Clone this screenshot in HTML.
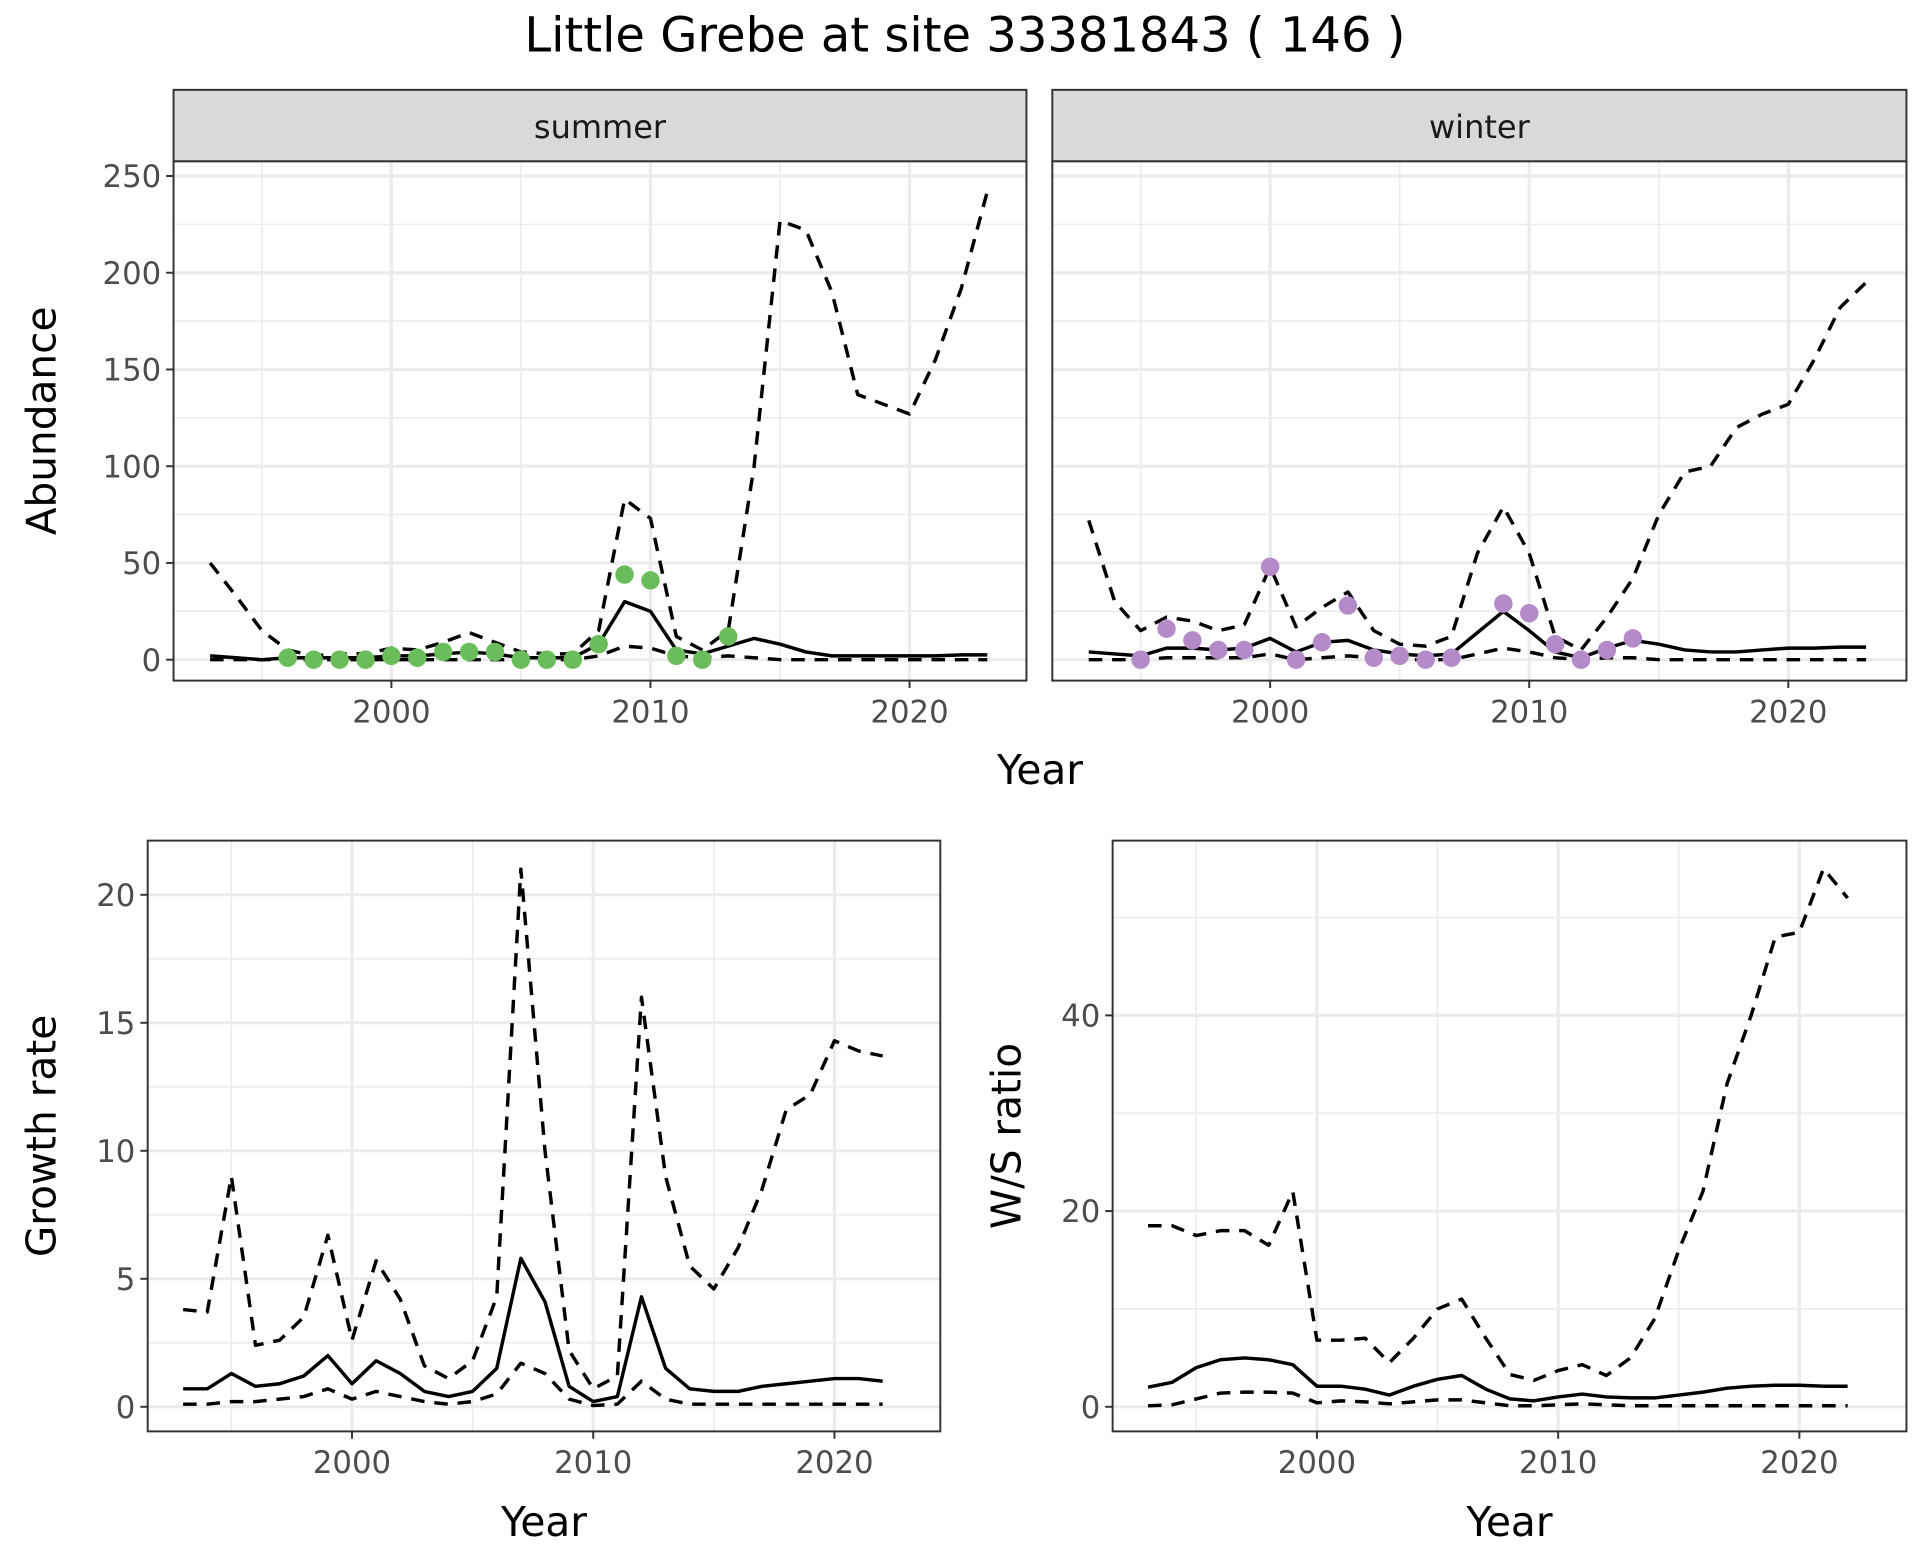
<!DOCTYPE html>
<html><head><meta charset="utf-8"><style>
html,body{margin:0;padding:0;background:#fff}
svg{display:block;font-family:"DejaVu Sans","Liberation Sans",sans-serif}
</style></head><body>
<svg id="c" width="1920" height="1560" viewBox="0 0 1560 1267.5" xmlns="http://www.w3.org/2000/svg">
<text x="784" y="42" font-size="39" text-anchor="middle" fill="#000">Little Grebe at site 33381843 ( 146 )</text>
</svg>
<script>
const yearsA = [];for(let y=1993;y<=2023;y++)yearsA.push(y);
const yearsB = [];for(let y=1993;y<=2022;y++)yearsB.push(y);
const sumUpper=[50,33,15,5,2,3,3,6,5,9,14,9,4,3,3,15,83,73,12,5,15,100,227,222,190,137,132,127,155,192,242];
const sumMid=[2,1,0,1,1,1,1,2,2,3,4,3,1,1,1,8,30,25,5,3,7,11,8,4,2,2,2,2,2,2.5,2.5];
const sumLower=[0,0,0,0,0,0,0,0,0,0,0,0,0,0,0,2,7,6,2,1,2,1,0,0,0,0,0,0,0,0,0];
const sumPtYears=[1996,1997,1998,1999,2000,2001,2002,2003,2004,2005,2006,2007,2008,2009,2010,2011,2012,2013];
const sumPts=[1,0,0,0,2,1,4,4,4,0,0,0,8,44,41,2,0,12];
const winUpper=[72,30,15,22,20,15,18,48,17,27,35,15,8,7,12,55,79,55,12,5,22,42,75,97,100,120,127,132,155,182,195];
const winMid=[4,3,2,6,6,5,6,11,4,9,10,5,3,2,3,14,25,15,4,1,6,10,8,5,4,4,5,6,6,6.5,6.5];
const winLower=[0,0,0,1,1,1,1,3,0,1,2,1,0,0,0,3,6,4,1,0,1,1,0,0,0,0,0,0,0,0,0];
const winPtYears=[1995,1996,1997,1998,1999,2000,2001,2002,2003,2004,2005,2006,2007,2009,2010,2011,2012,2013,2014];
const winPts=[0,16,10,5,5,48,0,9,28,1,2,0,1,29,24,8,0,5,11];
const grUpper=[3.8,3.7,9,2.4,2.6,3.5,6.7,2.6,5.7,4.2,1.6,1.1,1.8,4.3,21,10,2.2,0.7,1.2,16,9,5.5,4.6,6.2,8.5,11.6,12.2,14.3,13.9,13.7];
const grMid=[0.7,0.7,1.3,0.8,0.9,1.2,2.0,0.9,1.8,1.3,0.6,0.4,0.6,1.5,5.8,4.1,0.8,0.2,0.4,4.3,1.5,0.7,0.6,0.6,0.8,0.9,1.0,1.1,1.1,1.0];
const grLower=[0.1,0.1,0.2,0.2,0.3,0.4,0.7,0.3,0.6,0.4,0.2,0.1,0.2,0.5,1.7,1.3,0.3,0.05,0.1,1.0,0.3,0.1,0.1,0.1,0.1,0.1,0.1,0.1,0.1,0.1];
const wsUpper=[18.5,18.5,17.5,18,18,16.5,22,6.8,6.8,7,4.5,7,10,11,7,3.3,2.7,3.7,4.3,3.2,5,9,16,22,33,40,48,48.5,55,52];
const wsMid=[2,2.5,4,4.8,5,4.8,4.3,2.1,2.1,1.8,1.2,2.1,2.8,3.2,1.8,0.8,0.6,1.0,1.3,1.0,0.9,0.9,1.2,1.5,1.9,2.1,2.2,2.2,2.1,2.1];
const wsLower=[0.1,0.2,0.8,1.4,1.5,1.5,1.4,0.4,0.6,0.5,0.3,0.5,0.7,0.7,0.4,0.1,0.1,0.2,0.3,0.2,0.1,0.1,0.1,0.1,0.1,0.1,0.1,0.1,0.1,0.1];
const xTicks=[2000,2010,2020];
const xMinor=[1995,2005,2015];
const abTicks=[0,50,100,150,200,250];
const abMinor=[25,75,125,175,225];
const grTicks=[0,5,10,15,20];
const grMinor=[2.5,7.5,12.5,17.5];
const wsTicks=[0,20,40];
const wsMinor=[10,30,50];

const svg=document.getElementById('c');
const NS='http://www.w3.org/2000/svg';
function el(t,a,p){const e=document.createElementNS(NS,t);for(const k in a)e.setAttribute(k,a[k]);(p||svg).appendChild(e);return e;}

function panel(o){
  const g=el('g',{});
  
  
  const sx=v=>o.x2000+(v-2000)*o.pxYear;
  const sy=v=>o.y0-v*o.pxUnit;
  el('rect',{x:o.l,y:o.t,width:o.r-o.l,height:o.b-o.t,fill:'#fff'},g);
  o.yMinor.forEach(v=>el('line',{x1:o.l,x2:o.r,y1:sy(v),y2:sy(v),stroke:'#ebebeb','stroke-width':1.3},g));
  xMinor.forEach(v=>el('line',{x1:sx(v),x2:sx(v),y1:o.t,y2:o.b,stroke:'#ebebeb','stroke-width':1.3},g));
  o.yTicks.forEach(v=>el('line',{x1:o.l,x2:o.r,y1:sy(v),y2:sy(v),stroke:'#ebebeb','stroke-width':2.6},g));
  xTicks.forEach(v=>el('line',{x1:sx(v),x2:sx(v),y1:o.t,y2:o.b,stroke:'#ebebeb','stroke-width':2.6},g));
  function line(xs,ys,dash,name){
    const p=el('path',{d:xs.map((x,i)=>(i?'L':'M')+sx(x).toFixed(1)+','+sy(ys[i]).toFixed(1)).join(''),fill:'none',stroke:'#000','stroke-width':2.8,'stroke-dasharray':dash?'11,8':'none','stroke-linejoin':'round'},g);
    
    
  }
  line(o.years,o.upper,true,'upper-bound-line');
  line(o.years,o.lower,true,'lower-bound-line');
  line(o.years,o.mid,false,'estimate-line');
  if(o.ptYears){o.ptYears.forEach((x,i)=>{
    const c=el('circle',{cx:sx(x),cy:sy(o.pts[i]),r:7.5,fill:o.ptColor},g);
    
    
  });}
  el('rect',{x:o.l,y:o.t,width:o.r-o.l,height:o.b-o.t,fill:'none',stroke:'#333','stroke-width':1.6},g);
  if(o.yLabels){o.yTicks.forEach(v=>{
    el('line',{x1:o.l-6,x2:o.l,y1:sy(v),y2:sy(v),stroke:'#333','stroke-width':1.6},g);
    const t=el('text',{x:o.l-10,y:sy(v)+9,'font-size':25,'text-anchor':'end',fill:'#4d4d4d'},g);t.textContent=v;
    
    
  });}
  xTicks.forEach(v=>{
    el('line',{x1:sx(v),x2:sx(v),y1:o.b,y2:o.b+6,stroke:'#333','stroke-width':1.6},g);
    const t=el('text',{x:sx(v),y:o.b+34,'font-size':25,'text-anchor':'middle',fill:'#4d4d4d'},g);t.textContent=v;
    
    
  });
  if(o.strip){
    el('rect',{x:o.l,y:73,width:o.r-o.l,height:o.t-73,fill:'#d9d9d9',stroke:'#333','stroke-width':1.6},g);
    const t=el('text',{x:(o.l+o.r)/2,y:112,'font-size':26,'text-anchor':'middle',fill:'#1a1a1a'},g);t.textContent=o.strip;
    
    
  }
  if(o.ytitle){
    const cy=(o.t+o.b)/2;
    const t=el('text',{x:o.ytx,y:cy,'font-size':33,'text-anchor':'middle',fill:'#000',transform:`rotate(-90 ${o.ytx} ${cy})`},g);t.textContent=o.ytitle;
    
    
  }
  if(o.xtitle){
    const t=el('text',{x:(o.l+o.r)/2,y:o.b+85,'font-size':33,'text-anchor':'middle',fill:'#000'},g);t.textContent='Year';
    
    
  }
}
panel({name:'summer-panel',l:141,r:834,t:131,b:553,x2000:318,pxYear:21.05,y0:536,pxUnit:1.572,yTicks:abTicks,yMinor:abMinor,years:yearsA,upper:sumUpper,mid:sumMid,lower:sumLower,ptYears:sumPtYears,pts:sumPts,ptColor:'#6abd5a',yLabels:true,strip:'summer',ytitle:'Abundance',ytx:45});
panel({name:'winter-panel',l:855,r:1549,t:131,b:553,x2000:1032,pxYear:21.05,y0:536,pxUnit:1.572,yTicks:abTicks,yMinor:abMinor,years:yearsA,upper:winUpper,mid:winMid,lower:winLower,ptYears:winPtYears,pts:winPts,ptColor:'#b58ac8',yLabels:false,strip:'winter'});
const yt=el('text',{x:845,y:637,'font-size':33,'text-anchor':'middle',fill:'#000'});yt.textContent='Year';


panel({name:'growth-rate-panel',l:120,r:764,t:683,b:1163,x2000:286,pxYear:19.6,y0:1143,pxUnit:20.8,yTicks:grTicks,yMinor:grMinor,years:yearsB,upper:grUpper,mid:grMid,lower:grLower,yLabels:true,ytitle:'Growth rate',ytx:45,xtitle:true});
panel({name:'ws-ratio-panel',l:904,r:1549,t:683,b:1163,x2000:1070,pxYear:19.6,y0:1143,pxUnit:7.95,yTicks:wsTicks,yMinor:wsMinor,years:yearsB,upper:wsUpper,mid:wsMid,lower:wsLower,yLabels:true,ytitle:'W/S ratio',ytx:829,xtitle:true});
</script>
</body></html>
